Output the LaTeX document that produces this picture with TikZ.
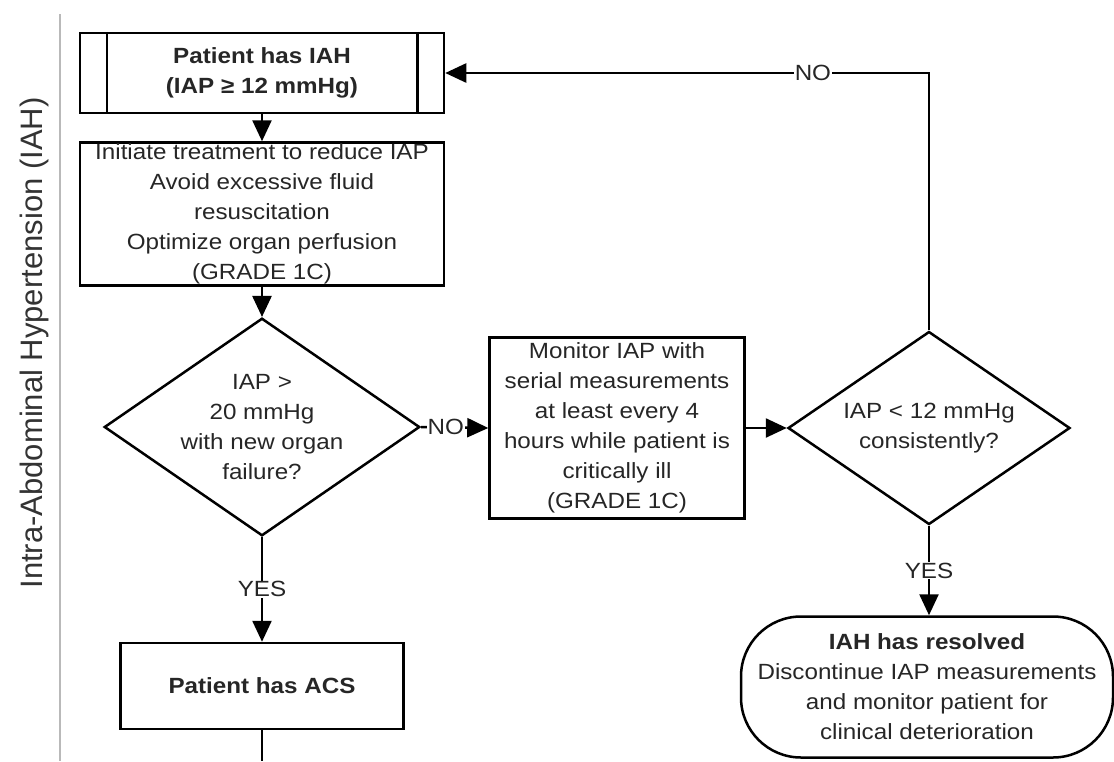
\documentclass[tikz,border=0pt]{standalone}
\usepackage{fontspec}
\setmainfont[FakeStretch=1.1]{Liberation Sans}
\newfontfamily\sidefont{Liberation Sans}
\usetikzlibrary{arrows.meta,shapes.geometric}
\definecolor{txt}{HTML}{262626}
\begin{document}
\begin{tikzpicture}[x=1pt,y=-1pt,
  every node/.style={text=txt, font=\fontsize{22}{30}\selectfont, align=center},
  box/.style={draw=black, line width=2.5pt, inner sep=0pt},
  dia/.style={draw=black, diamond, line width=2.5pt, inner sep=0pt, aspect=1.45},
  conn/.style={line width=2.5pt, -{Triangle[length=21pt,width=19pt]}},
  plain/.style={line width=2.5pt},
  lbl/.style={fill=white, inner sep=1pt},
  bold/.style={font=\bfseries\fontsize{22}{30}\selectfont}]
\useasboundingbox (0,0) rectangle (1114,761);
% side rule and label
\coordinate (ruletop) at (60,14);
\coordinate (rulebot) at (60,761);
\draw[gray!55, line width=1.2pt] (ruletop) -- (rulebot);
\node[rotate=90, text=black!80, font=\sidefont\fontsize{31}{32}\selectfont] (side) at (34,343) {Intra-Abdominal Hypertension (IAH)};
% nodes
\node[box, bold, minimum width=364pt, minimum height=80pt] (iah) at (262,73) {Patient has IAH\\(IAP ≥ 12 mmHg)};
\draw[plain] ([xshift=28pt]iah.north west) -- ([xshift=28pt]iah.south west);
\draw[plain] ([xshift=-28pt]iah.north east) -- ([xshift=-28pt]iah.south east);
\node[box, minimum width=364pt, minimum height=143pt] (treat) at (262,214) {Initiate treatment to reduce IAP\\Avoid excessive fluid\\resuscitation\\Optimize organ perfusion\\(GRADE 1C)};
\node[dia, minimum width=278pt, minimum height=197pt] (d1) at (262,427) {IAP >\\20 mmHg\\with new organ\\failure?};
\node[box, minimum width=255pt, minimum height=181pt] (mon) at (617,428) {Monitor IAP with\\serial measurements\\at least every 4\\hours while patient is\\critically ill\\(GRADE 1C)};
\node[dia, minimum width=282pt, minimum height=193pt] (d2) at (929,428) {IAP < 12 mmHg\\consistently?};
\node[box, bold, minimum width=283pt, minimum height=86pt] (acs) at (262,686) {Patient has ACS};
\node[box, rounded corners=60pt, minimum width=372pt, minimum height=141pt] (res) at (927,687) {\textbf{IAH has resolved}\\Discontinue IAP measurements\\and monitor patient for\\clinical deterioration};
\coordinate (acsout) at (262,761);
% connectors
\draw[conn] (iah) -- (treat);
\draw[conn] (treat) -- (d1);
\draw[conn] (d1.east) -- node[lbl, pos=0.37]{NO} (mon.west);
\draw[conn] (mon.east) -- (d2.west);
\draw[conn] (d2.north) |- node[lbl, pos=0.62]{NO} (iah.east);
\draw[conn] (d1.south) -- node[lbl, pos=0.5]{YES} (acs.north);
\draw[conn] (d2.south) -- node[lbl, pos=0.5]{YES} (res.north -| d2.south);
\draw[plain] (acs.south) -- (acsout);
\end{tikzpicture}
\end{document}
